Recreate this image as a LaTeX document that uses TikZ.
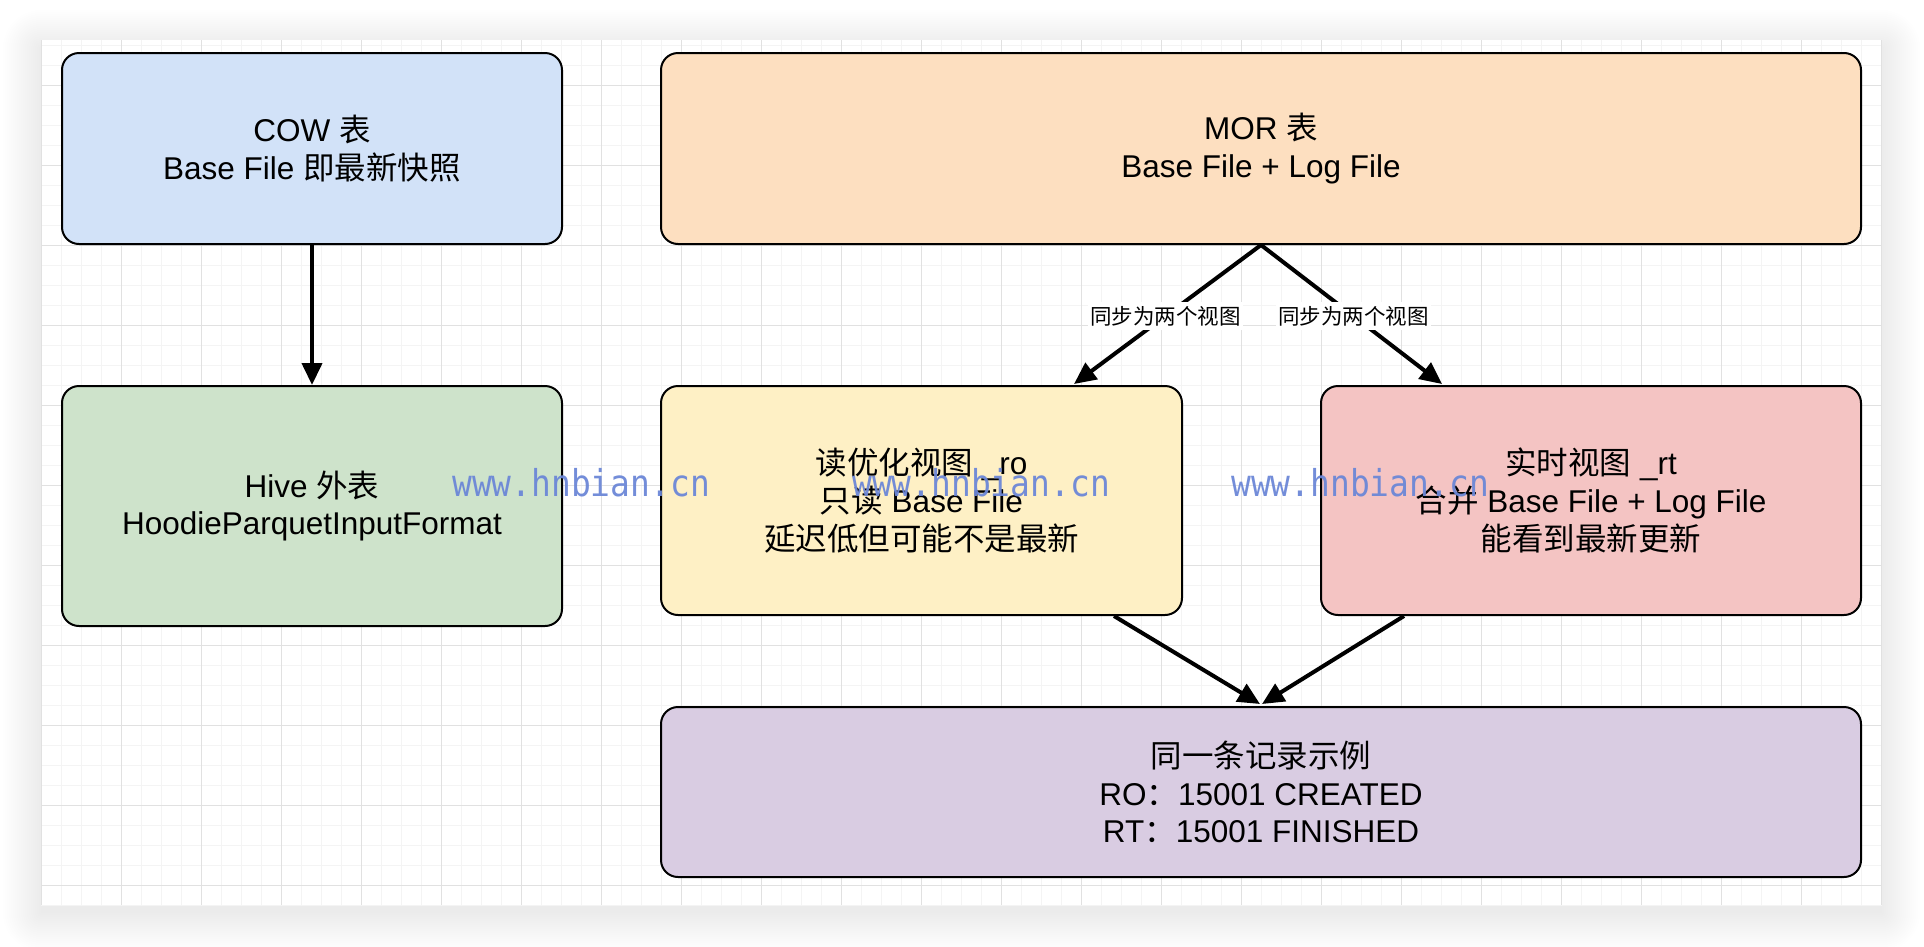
\documentclass[tikz,border=0pt]{standalone}
\usepackage{fontspec}
\setmainfont{Liberation Sans}
\newfontfamily\cjkf{Noto Sans CJK SC}
\newfontfamily\wmf[FakeStretch=0.89]{DejaVu Sans Mono}
\usetikzlibrary{arrows.meta,calc}
\newcommand\zh[1]{{\cjkf #1}}
\definecolor{cowfill}{RGB}{210,226,248}
\definecolor{hivefill}{RGB}{206,227,203}
\definecolor{morfill}{RGB}{253,223,192}
\definecolor{rofill}{RGB}{254,240,197}
\definecolor{rtfill}{RGB}{244,196,195}
\definecolor{recfill}{RGB}{217,204,226}
\definecolor{wmblue}{RGB}{108,135,215}
\definecolor{gridmajor}{RGB}{225,225,225}
\definecolor{gridminor}{RGB}{244,244,244}
\tikzset{
  box/.style={draw=black, line width=2pt, rounded corners=17pt, align=center,
    inner sep=0pt, font=\fontsize{31.5}{37.8}\selectfont},
  arr/.style={line width=4pt, -{Triangle[length=22pt,width=20pt]}},
  lbl/.style={fill=white, inner xsep=2pt, inner ysep=4pt,
    font=\cjkf\fontsize{21.5}{24}\selectfont},
  wm/.style={anchor=base west, inner sep=0pt, text=wmblue, text opacity=0.95,
    font=\wmf\fontsize{37}{40}\selectfont}
}
\begin{document}
\begin{tikzpicture}[x=1pt,y=-1pt]
\useasboundingbox (0,0) rectangle (1924,946);
\fill[white] (0,0) rectangle (1924,946);
% window shadow
\foreach \i in {0,2,...,38}{
  \fill[black, fill opacity=0.0045, rounded corners=\i pt]
    (41-\i,40-\i+8) rectangle (1882+\i,905+\i+8);
}
% canvas and grid
\fill[white] (41,40) rectangle (1882,905);
\foreach \x in {61,81,...,1881} \draw[gridminor, line width=1pt] (\x,40) -- (\x,905);
\foreach \y in {45,65,...,905} \draw[gridminor, line width=1pt] (41,\y) -- (1882,\y);
\foreach \x in {41,121,...,1881} \draw[gridmajor, line width=1pt] (\x,40) -- (\x,905);
\foreach \y in {85,165,...,885} \draw[gridmajor, line width=1pt] (41,\y) -- (1882,\y);

% boxes
\node[box, fill=cowfill, minimum width=500pt, minimum height=191pt] (cow) at (312,148.5)
  {COW \zh{表}\\Base File \zh{即最新快照}};
\node[box, fill=hivefill, minimum width=500pt, minimum height=240pt] (hive) at (312,506)
  {Hive \zh{外表}\\HoodieParquetInputFormat};
\node[box, fill=morfill, minimum width=1200pt, minimum height=191pt] (mor) at (1261,148.5)
  {MOR \zh{表}\\Base File + Log File};
\node[box, fill=rofill, minimum width=521pt, minimum height=229pt] (ro) at (921.5,500.5)
  {\zh{读优化视图} \_ro\\\zh{只读} Base File\\\zh{延迟低但可能不是最新}};
\node[box, fill=rtfill, minimum width=540pt, minimum height=229pt] (rt) at (1591,500.5)
  {\zh{实时视图} \_rt\\\zh{合并} Base File + Log File\\\zh{能看到最新更新}};
\node[box, fill=recfill, minimum width=1200pt, minimum height=170pt] (rec) at (1261,792)
  {\zh{同一条记录示例}\\RO\zh{：}15001 CREATED\\RT\zh{：}15001 FINISHED};

% connectors
\draw[arr] (cow.south) -- (hive.north);
\draw[arr] (mor.south) -- ($(ro.north west)+(414,-1)$)
  node[lbl, pos=0.51] (l1) {同步为两个视图};
\draw[arr] (mor.south) -- ($(rt.north west)+(122,-1)$)
  node[lbl, pos=0.51] (l2) {同步为两个视图};
\draw[arr] ($(ro.south east)+(-69,0)$) -- ($(rec.north)+(-1,-2)$);
\draw[arr] ($(rt.south west)+(84,0)$) -- ($(rec.north)+(1,-2)$);

% watermarks
\node[wm] (wm1) at (452,496.7) {www.hnbian.cn};
\node[wm] (wm2) at (852,496.7) {www.hnbian.cn};
\node[wm] (wm3) at (1231,496.7) {www.hnbian.cn};
\end{tikzpicture}
\end{document}
